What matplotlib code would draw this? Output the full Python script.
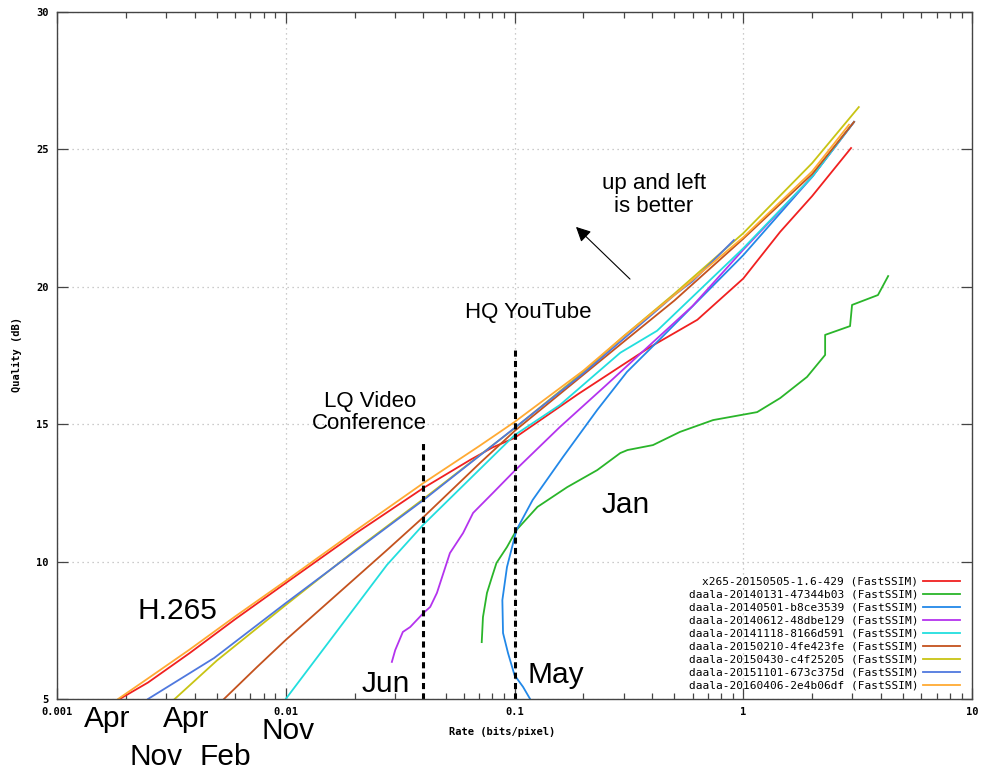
import matplotlib.pyplot as plt
import matplotlib.ticker as ticker

## series (rate in bits/pixel, quality in dB)
x265_rate = [0.00188, 0.0025, 0.0038, 0.006, 0.01, 0.02, 0.04, 0.064, 0.08, 0.1, 0.19, 0.39, 0.63, 1.0, 1.45, 2.0, 2.96]
x265_q = [5.0, 5.6, 6.67, 7.9, 9.22, 11.0, 12.68, 13.7, 14.15, 14.5, 16.1, 17.8, 18.8, 20.3, 22.0, 23.3, 25.05]

jan_rate = [0.0719, 0.0728, 0.0758, 0.0797, 0.0834, 0.0927, 0.102, 0.126, 0.17, 0.23, 0.29, 0.312, 0.403, 0.529,
            0.738, 1.15, 1.45, 1.9, 2.28, 2.28, 2.93, 2.99, 3.88, 4.3]
jan_q = [7.07, 7.98, 8.86, 9.44, 9.95, 10.53, 11.15, 11.99, 12.71, 13.33, 13.95, 14.06, 14.24, 14.72,
         15.15, 15.44, 15.95, 16.72, 17.52, 18.25, 18.57, 19.34, 19.7, 20.39]

may_rate = [0.117, 0.109, 0.1, 0.0937, 0.0891, 0.0885, 0.0927, 0.102, 0.12, 0.163, 0.23, 0.31, 0.433, 1.0, 2.0, 3.05]
may_q = [5.0, 5.44, 5.87, 6.67, 7.4, 8.6, 9.8, 11.15, 12.24, 13.81, 15.52, 16.9, 18.1, 21.15, 24.0, 26.0]

jun_rate = [0.0291, 0.0301, 0.0325, 0.035, 0.04, 0.0428, 0.0458, 0.0522, 0.0596, 0.0659, 0.0805, 0.1, 0.158,
            0.25, 0.343, 0.6, 1.0, 2.0, 3.05]
jun_q = [6.35, 6.78, 7.44, 7.62, 8.13, 8.35, 8.86, 10.31, 11.04, 11.77, 12.5, 13.3, 14.9,
         16.4, 17.45, 19.3, 21.35, 24.0, 26.0]

nov14_rate = [0.01, 0.0277, 0.04, 0.1, 0.158, 0.29, 0.42, 1.0, 2.0, 3.05]
nov14_q = [5.0, 9.88, 11.35, 14.6, 15.7, 17.6, 18.4, 21.4, 24.0, 26.0]

feb_rate = [0.00537, 0.00748, 0.01, 0.0277, 0.04, 0.0709, 0.1, 0.2, 0.3, 0.5, 1.0, 2.0, 3.05]
feb_q = [5.0, 6.16, 7.15, 10.42, 11.62, 13.6, 14.75, 16.8, 18.0, 19.5, 21.75, 24.1, 26.0]

apr15_rate = [0.00327, 0.005, 0.01, 0.02, 0.04, 0.1, 0.2, 0.3, 0.5, 1.0, 2.0, 3.2]
apr15_q = [5.0, 6.4, 8.42, 10.4, 12.28, 14.85, 16.9, 18.2, 19.75, 21.95, 24.5, 26.54]

nov15_rate = [0.0025, 0.00486, 0.01, 0.0277, 0.04, 0.1, 0.2, 0.4, 0.5, 0.6, 0.91]
nov15_q = [5.0, 6.49, 8.49, 11.25, 12.24, 14.86, 16.85, 19.0, 19.7, 20.2, 21.7]

apr16_rate = [0.00185, 0.0025, 0.0038, 0.006, 0.01, 0.02, 0.04, 0.07, 0.1, 0.2, 0.3, 0.5, 1.0, 2.0, 2.9]
apr16_q = [5.0, 5.75, 6.8, 8.0, 9.3, 11.1, 12.86, 14.2, 15.08, 16.95, 18.2, 19.7, 21.8, 24.2, 25.9]

names = ['x265-20150505-1.6-429 (FastSSIM)', 'daala-20140131-47344b03 (FastSSIM)',
         'daala-20140501-b8ce3539 (FastSSIM)', 'daala-20140612-48dbe129 (FastSSIM)',
         'daala-20141118-8166d591 (FastSSIM)', 'daala-20150210-4fe423fe (FastSSIM)',
         'daala-20150430-c4f25205 (FastSSIM)', 'daala-20151101-673c375d (FastSSIM)',
         'daala-20160406-2e4b06df (FastSSIM)']
colours = ['#f02020', '#2ab52a', '#2288e8', '#b433ee', '#22dede', '#c4521e', '#c8c414', '#4f78de', '#ffaa33']

x_ticks = [0.001, 0.01, 0.1, 1, 10]
x_tick_labels = ['0.001', '0.01', '0.1', '1', '10']
y_ticks = [5, 10, 15, 20, 25, 30]

mono = 'DejaVu Sans Mono'
sans = 'Liberation Sans'

fig = plt.figure(figsize=(9.85, 7.73), dpi=100)
ax = fig.add_axes([57 / 985, 74 / 773, 915 / 985, 687 / 773])

series = [(x265_rate, x265_q), (jan_rate, jan_q), (may_rate, may_q), (jun_rate, jun_q),
          (nov14_rate, nov14_q), (feb_rate, feb_q), (apr15_rate, apr15_q), (nov15_rate, nov15_q),
          (apr16_rate, apr16_q)]
for (r, q), name, col in zip(series, names, colours):
    ax.plot(r, q, color=col, lw=1.3, label=name)

ax.set_xscale('log')
ax.set_xlim(0.001, 10)
ax.set_ylim(5, 30)
ax.set_xticks(x_ticks)
ax.set_xticklabels(x_tick_labels)
ax.set_yticks(y_ticks)
ax.xaxis.set_minor_locator(ticker.LogLocator(base=10, subs=range(2, 10)))
ax.xaxis.set_minor_formatter(ticker.NullFormatter())
ax.tick_params(which='both', direction='in', top=True, right=True, color='#444444', width=0.9)
ax.tick_params(which='major', length=8, pad=6)
ax.tick_params(which='minor', length=4)
for lab in ax.get_xticklabels() + ax.get_yticklabels():
    lab.set_family(mono)
    lab.set_weight('bold')
    lab.set_size(7.5)
ax.grid(True, which='major', color='#bbbbbb', linestyle=(0, (1, 3)), lw=0.9)
for s in ax.spines.values():
    s.set_color('#444444')
    s.set_linewidth(1)

## axis titles
fig.text(502 / 985, 1 - 732 / 773, 'Rate (bits/pixel)', family=mono, weight='bold', size=7.5,
         ha='center', va='center')
fig.text(17 / 985, 1 - 355 / 773, 'Quality (dB)', family=mono, weight='bold', size=7.5,
         ha='center', va='center', rotation=90)

## reference lines
ax.plot([0.04, 0.04], [5, 14.32], color='black', lw=2.2, linestyle=(0, (2, 1.4)))
ax.plot([0.1, 0.1], [5, 17.7], color='black', lw=2.2, linestyle=(0, (2, 1.4)))

## annotations
big = 21.5
ax.text(0.00336, 7.91, 'H.265', family=sans, size=big, ha='center', va='baseline')
month_labels = [('Apr', 0.00165, 3.98), ('Nov', 0.00272, 2.60), ('Apr', 0.00366, 3.98), ('Feb', 0.00542, 2.60),
                ('Nov', 0.01023, 3.54), ('Jun', 0.0274, 5.25), ('May', 0.151, 5.58), ('Jan', 0.307, 11.77)]
for txt, r, q in month_labels:
    ax.text(r, q, txt, family=sans, size=big, ha='center', va='baseline', clip_on=False)

ax.text(0.0233, 15.44, 'LQ Video\nConference', family=sans, size=16, ha='center', va='center',
        linespacing=1.05)
ax.text(0.1146, 19.05, 'HQ YouTube', family=sans, size=16, ha='center', va='center')
ax.text(0.4075, 23.34, 'up and left\nis better', family=sans, size=16, ha='center', va='center',
        linespacing=1.07)
ax.annotate('', xy=(0.182, 22.25), xytext=(0.3264, 20.21),
            arrowprops=dict(arrowstyle='-|>', color='black', lw=0.8, mutation_scale=22))

## legend
leg = ax.legend(loc='lower right', bbox_to_anchor=(0.987, 0.012), frameon=False, markerfirst=False,
                prop={'family': mono, 'size': 8}, handlelength=3.3, handletextpad=0.45,
                labelspacing=0.27, borderaxespad=0, borderpad=0)

fig.savefig('out.png', dpi=100)
